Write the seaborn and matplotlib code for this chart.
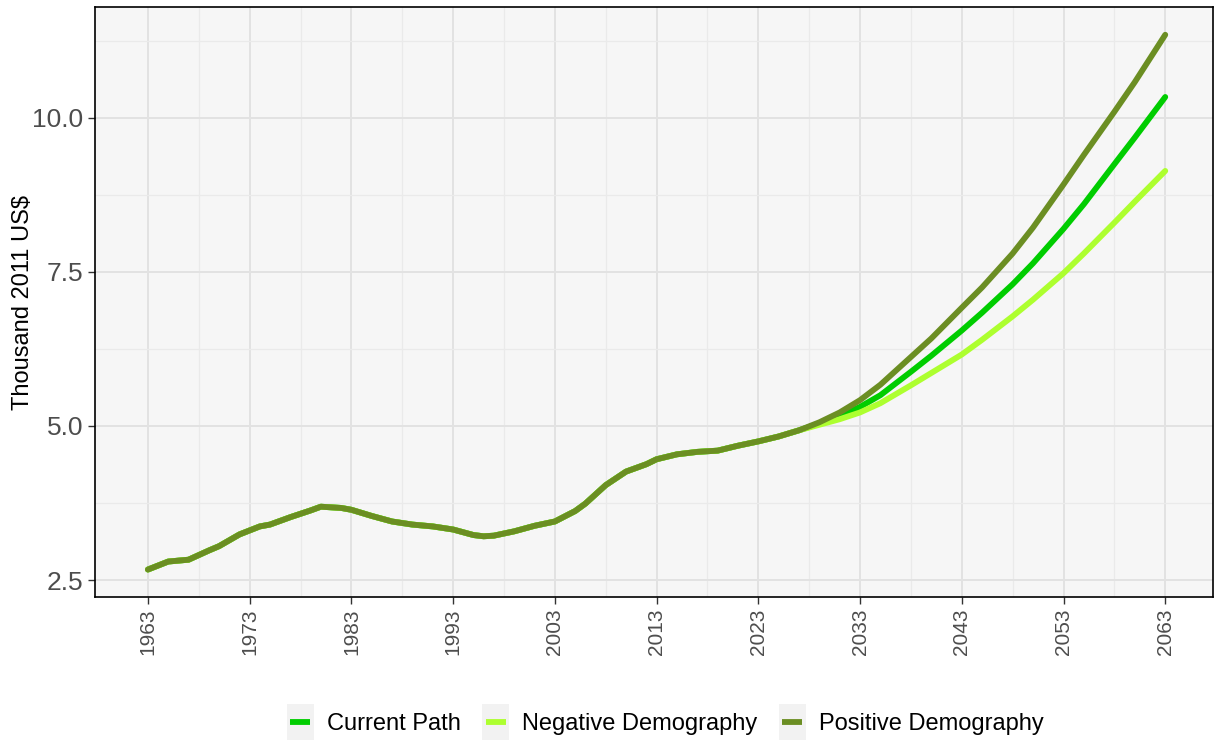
import pandas as pd
import numpy as np
import matplotlib
matplotlib.use('Agg')
import matplotlib.pyplot as plt
import seaborn as sns
from matplotlib.ticker import FixedLocator
from matplotlib.legend_handler import HandlerLine2D
from matplotlib.patches import Rectangle
from matplotlib.lines import Line2D

# historical part, shared by all scenarios
hist_years = [1963, 1965, 1967, 1969, 1970, 1972, 1974, 1975, 1977, 1979, 1980,
              1982, 1983, 1985, 1987, 1989, 1991, 1993, 1995, 1996, 1997, 1999,
              2001, 2003, 2005, 2006, 2008, 2010, 2012, 2013, 2015, 2017, 2019,
              2021, 2023, 2025, 2027]
hist_values = [2.67, 2.80, 2.83, 2.98, 3.05, 3.24, 3.37, 3.40, 3.52, 3.63, 3.69,
               3.67, 3.64, 3.54, 3.45, 3.40, 3.37, 3.32, 3.23, 3.21, 3.22, 3.29,
               3.38, 3.45, 3.62, 3.74, 4.04, 4.26, 4.38, 4.46, 4.54, 4.58, 4.60,
               4.68, 4.75, 4.83, 4.93]

# projections
proj_years = [2029, 2031, 2033, 2035, 2038, 2040, 2043, 2045, 2048, 2050, 2053,
              2055, 2058, 2060, 2063]
current_path = [5.04, 5.17, 5.31, 5.50, 5.88, 6.14, 6.55, 6.84, 7.30, 7.64, 8.20,
                8.60, 9.25, 9.68, 10.34]
negative_demo = [5.02, 5.11, 5.22, 5.37, 5.66, 5.86, 6.16, 6.40, 6.78, 7.05, 7.48,
                 7.80, 8.30, 8.64, 9.14]
positive_demo = [5.06, 5.22, 5.42, 5.67, 6.12, 6.42, 6.92, 7.25, 7.80, 8.22, 8.92,
                 9.40, 10.10, 10.58, 11.35]

scenarios = ['Current Path', 'Negative Demography', 'Positive Demography']
colors = ['#00CD00', '#ADFF2F', '#6B8E23']

frames = []
for name, proj in zip(scenarios, [current_path, negative_demo, positive_demo]):
    frames.append(pd.DataFrame({'year': hist_years + proj_years,
                                'value': hist_values + proj,
                                'scenario': name}))
df = pd.concat(frames, ignore_index=True)


class KeyHandler(HandlerLine2D):
    # ggplot-like legend key: grey square behind a short line
    def create_artists(self, legend, orig_handle, xdescent, ydescent,
                       width, height, fontsize, trans):
        box = Rectangle((-xdescent, -ydescent - 0.45 * height), width, height * 1.9,
                        facecolor='#F2F2F2', edgecolor='none', transform=trans)
        y = -ydescent + height / 2
        ln = Line2D([-xdescent + 0.13 * width, -xdescent + 0.87 * width], [y, y],
                    color=orig_handle.get_color(), linewidth=4.2,
                    solid_capstyle='butt', transform=trans)
        return [box, ln]


sns.set_style('white')
plt.rcParams['font.family'] = ['Liberation Sans', 'DejaVu Sans']

fig = plt.figure(figsize=(12.15, 7.4), dpi=100)
ax = fig.add_axes([0.0782, 0.1932, 0.9202, 0.7973])
ax.set_facecolor('#F6F6F6')

sns.lineplot(data=df, x='year', y='value', hue='scenario', hue_order=scenarios,
             palette=colors, linewidth=4.2, ax=ax, legend=True)

ax.set_xlim(1957.8, 2067.7)
ax.set_ylim(2.224, 11.80)

xt = list(range(1963, 2064, 10))
ax.xaxis.set_major_locator(FixedLocator(xt))
ax.xaxis.set_minor_locator(FixedLocator([x + 5 for x in xt]))
ax.yaxis.set_major_locator(FixedLocator([2.5, 5.0, 7.5, 10.0]))
ax.yaxis.set_minor_locator(FixedLocator([3.75, 6.25, 8.75, 11.25]))
ax.set_yticklabels(['2.5', '5.0', '7.5', '10.0'])

ax.grid(which='major', color='#E2E2E2', linewidth=1.4)
ax.grid(which='minor', color='#EAEAEA', linewidth=0.9)
ax.set_axisbelow(True)

ax.tick_params(axis='x', which='major', labelsize=15, labelcolor='#4D4D4D',
               rotation=90, length=5, width=1, color='#333333', direction='out',
               bottom=True, pad=3)
ax.tick_params(axis='y', which='major', labelsize=19, labelcolor='#4D4D4D',
               length=5, width=1, color='#333333', direction='out', left=True)
ax.tick_params(which='minor', length=0)

for s in ax.spines.values():
    s.set_color('black')
    s.set_linewidth(1.2)

ax.set_xlabel('')
ax.set_ylabel('Thousand 2011 US$', fontsize=17, color='black')
ax.yaxis.set_label_coords(-0.055, 0.5)

handles, labels = ax.get_legend_handles_labels()
leg = ax.legend(handles, labels, loc='center', bbox_to_anchor=(0.51, -0.215),
                ncol=3, frameon=False, fontsize=17, handlelength=1.15,
                handleheight=0.9, columnspacing=0.9, handletextpad=0.55,
                labelcolor='black', handler_map={Line2D: KeyHandler()})

fig.savefig('out.png', dpi=100)
